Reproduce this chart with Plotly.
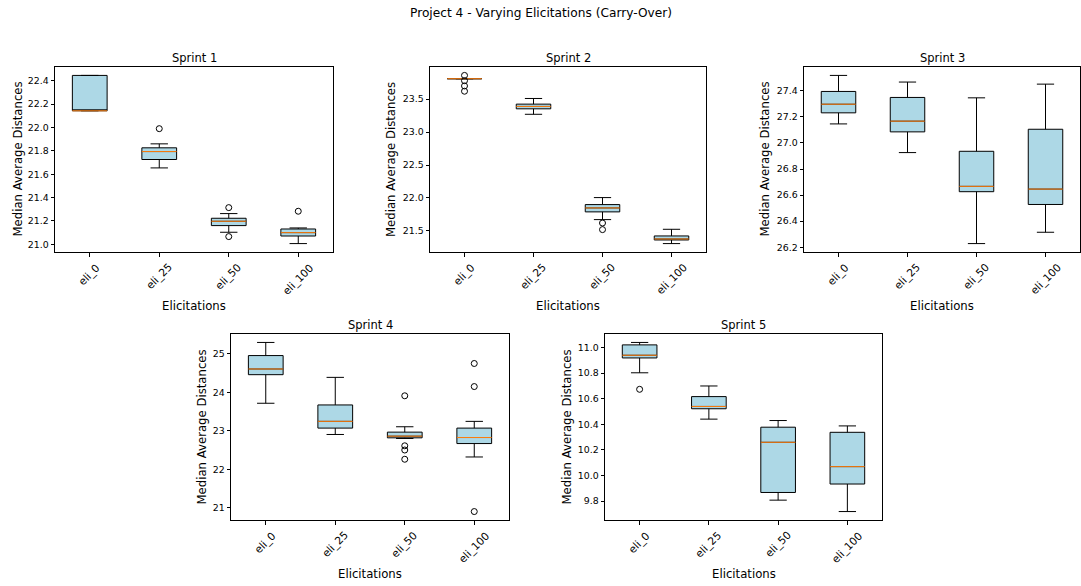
import plotly.graph_objects as go

W, H = 1081, 586
FONT = "DejaVu Sans"

categories = ["eli_0", "eli_25", "eli_50", "eli_100"]
sprint_titles = ["Sprint 1", "Sprint 2", "Sprint 3", "Sprint 4", "Sprint 5"]

# Sprint 1
s1_lo = [22.143, 21.654, 21.103, 21.006]
s1_q1 = [22.143, 21.726, 21.160, 21.071]
s1_med = [22.143, 21.794, 21.197, 21.100]
s1_q3 = [22.446, 21.826, 21.223, 21.131]
s1_hi = [22.446, 21.860, 21.263, 21.140]
s1_out = [[], [21.99], [21.314, 21.066], [21.283]]

# Sprint 2
s2_lo = [23.81, 23.27, 21.672, 21.308]
s2_q1 = [23.81, 23.353, 21.789, 21.363]
s2_med = [23.81, 23.389, 21.849, 21.378]
s2_q3 = [23.81, 23.424, 21.900, 21.424]
s2_hi = [23.81, 23.510, 22.006, 21.525]
s2_out = [[23.86, 23.78, 23.70, 23.62], [], [21.62, 21.52], []]

# Sprint 3
s3_lo = [27.146, 26.926, 26.228, 26.315]
s3_q1 = [27.231, 27.085, 26.626, 26.528]
s3_med = [27.297, 27.167, 26.667, 26.646]
s3_q3 = [27.395, 27.349, 26.936, 27.105]
s3_hi = [27.518, 27.467, 27.346, 27.451]
s3_out = [[], [], [], []]

# Sprint 4
s4_lo = [23.716, 22.904, 22.800, 22.319]
s4_q1 = [24.459, 23.070, 22.817, 22.668]
s4_med = [24.607, 23.245, 22.860, 22.825]
s4_q3 = [24.956, 23.672, 22.965, 23.070]
s4_hi = [25.297, 24.389, 23.105, 23.245]
s4_out = [[], [], [23.91, 22.61, 22.50, 22.26], [24.75, 24.15, 20.90]]

# Sprint 5
s5_lo = [10.803, 10.441, 9.808, 9.719]
s5_q1 = [10.919, 10.522, 9.868, 9.934]
s5_med = [10.940, 10.540, 10.260, 10.070]
s5_q3 = [11.021, 10.617, 10.378, 10.338]
s5_hi = [11.040, 10.700, 10.430, 10.388]
s5_out = [[10.674], [], [], []]

sprints = [
    (s1_lo, s1_q1, s1_med, s1_q3, s1_hi, s1_out),
    (s2_lo, s2_q1, s2_med, s2_q3, s2_hi, s2_out),
    (s3_lo, s3_q1, s3_med, s3_q3, s3_hi, s3_out),
    (s4_lo, s4_q1, s4_med, s4_q3, s4_hi, s4_out),
    (s5_lo, s5_q1, s5_med, s5_q3, s5_hi, s5_out),
]
y_dticks = [0.2, 0.5, 0.2, 1, 0.2]
y_formats = [".1f", ".1f", ".1f", "d", ".1f"]

# axes boxes in pixels: left, right, top, bottom
axes_px = [(55, 333, 67, 252), (430, 706, 67, 252), (804, 1080, 67, 252),
           (231, 509, 334, 520), (605, 882, 334, 520)]
ylabel_offset = [38, 39.5, 40, 29.5, 38.5]

positions = [1, 2, 3, 4]
BOX_W = 0.5


def px_x(v):
    return v / W


def px_y(v):
    return 1 - v / H


fig = go.Figure()
annotations = []
layout = dict(
    width=W, height=H,
    margin=dict(l=0, r=0, t=0, b=0),
    paper_bgcolor="white", plot_bgcolor="white",
    showlegend=False,
    font=dict(family=FONT, color="black"),
)

for i, (lo, q1, med, q3, hi, outs) in enumerate(sprints):
    n = i + 1
    xa = "x" if n == 1 else f"x{n}"
    ya = "y" if n == 1 else f"y{n}"
    fig.add_trace(go.Box(
        x=positions, q1=q1, median=med, q3=q3, lowerfence=lo, upperfence=hi,
        width=BOX_W, whiskerwidth=0.5, boxpoints=False,
        fillcolor="#ADD8E6", line=dict(color="black", width=1),
        xaxis=xa, yaxis=ya, hoverinfo="skip",
    ))
    mx, my = [], []
    for p, m in zip(positions, med):
        mx += [p - BOX_W / 2, p + BOX_W / 2, None]
        my += [m, m, None]
    fig.add_trace(go.Scatter(x=mx, y=my, mode="lines",
                             line=dict(color="#FF7F0E", width=1),
                             xaxis=xa, yaxis=ya, hoverinfo="skip"))
    ox, oy = [], []
    for p, o in zip(positions, outs):
        ox += [p] * len(o)
        oy += o
    fig.add_trace(go.Scatter(x=ox, y=oy, mode="markers",
                             marker=dict(symbol="circle-open", size=6, color="black",
                                         line=dict(width=1, color="black")),
                             xaxis=xa, yaxis=ya, hoverinfo="skip"))

    allv = lo + hi + [v for o in outs for v in o]
    vmin, vmax = min(allv), max(allv)
    pad = (vmax - vmin) * 0.05
    l, r, t, b = axes_px[i]
    axis_common = dict(showline=True, mirror=True, linecolor="black", linewidth=1,
                       showgrid=False, zeroline=False, ticks="outside", ticklen=3.5,
                       tickwidth=1, tickcolor="black")
    layout["xaxis" if n == 1 else f"xaxis{n}"] = dict(
        domain=[px_x(l), px_x(r)], range=[0.5, 4.5], tickvals=positions,
        showticklabels=False, anchor=ya, **axis_common)
    layout["yaxis" if n == 1 else f"yaxis{n}"] = dict(
        domain=[px_y(b), px_y(t)], range=[vmin - pad, vmax + pad],
        dtick=y_dticks[i], tick0=0, tickformat=y_formats[i],
        tickfont=dict(family=FONT, size=9.4, color="black"),
        anchor=xa, **axis_common)

    # subplot title
    annotations.append(dict(text=sprint_titles[i], x=px_x((l + r) / 2), y=px_y(t - 9),
                            xref="paper", yref="paper", showarrow=False,
                            xanchor="center", yanchor="middle",
                            font=dict(family=FONT, size=11.5, color="black")))
    # x label
    annotations.append(dict(text="Elicitations", x=px_x((l + r) / 2), y=px_y(b + 54),
                            xref="paper", yref="paper", showarrow=False,
                            xanchor="center", yanchor="middle",
                            font=dict(family=FONT, size=11.7, color="black")))
    # y label
    annotations.append(dict(text="Median Average Distances", x=px_x(l - ylabel_offset[i]),
                            y=px_y((t + b) / 2), xref="paper", yref="paper",
                            showarrow=False, textangle=-90,
                            xanchor="center", yanchor="middle",
                            font=dict(family=FONT, size=11.7, color="black")))
    # rotated category tick labels
    for p, c in zip(positions, categories):
        annotations.append(dict(text=c, x=p, y=px_y(b + 6.5), xref=xa, yref="paper",
                                showarrow=False, textangle=-45,
                                xanchor="center", yanchor="top",
                                font=dict(family=FONT, size=10.6, color="black")))

annotations.append(dict(text="Project 4 - Varying Elicitations (Carry-Over)",
                        x=0.5, y=px_y(13.5), xref="paper", yref="paper",
                        showarrow=False, xanchor="center", yanchor="middle",
                        font=dict(family=FONT, size=12.2, color="black")))
layout["annotations"] = annotations
fig.update_layout(**layout)
fig.write_html("out.html",
               config={"displayModeBar": False},
               post_script="document.body.style.margin='0';document.body.style.overflow='hidden';")
